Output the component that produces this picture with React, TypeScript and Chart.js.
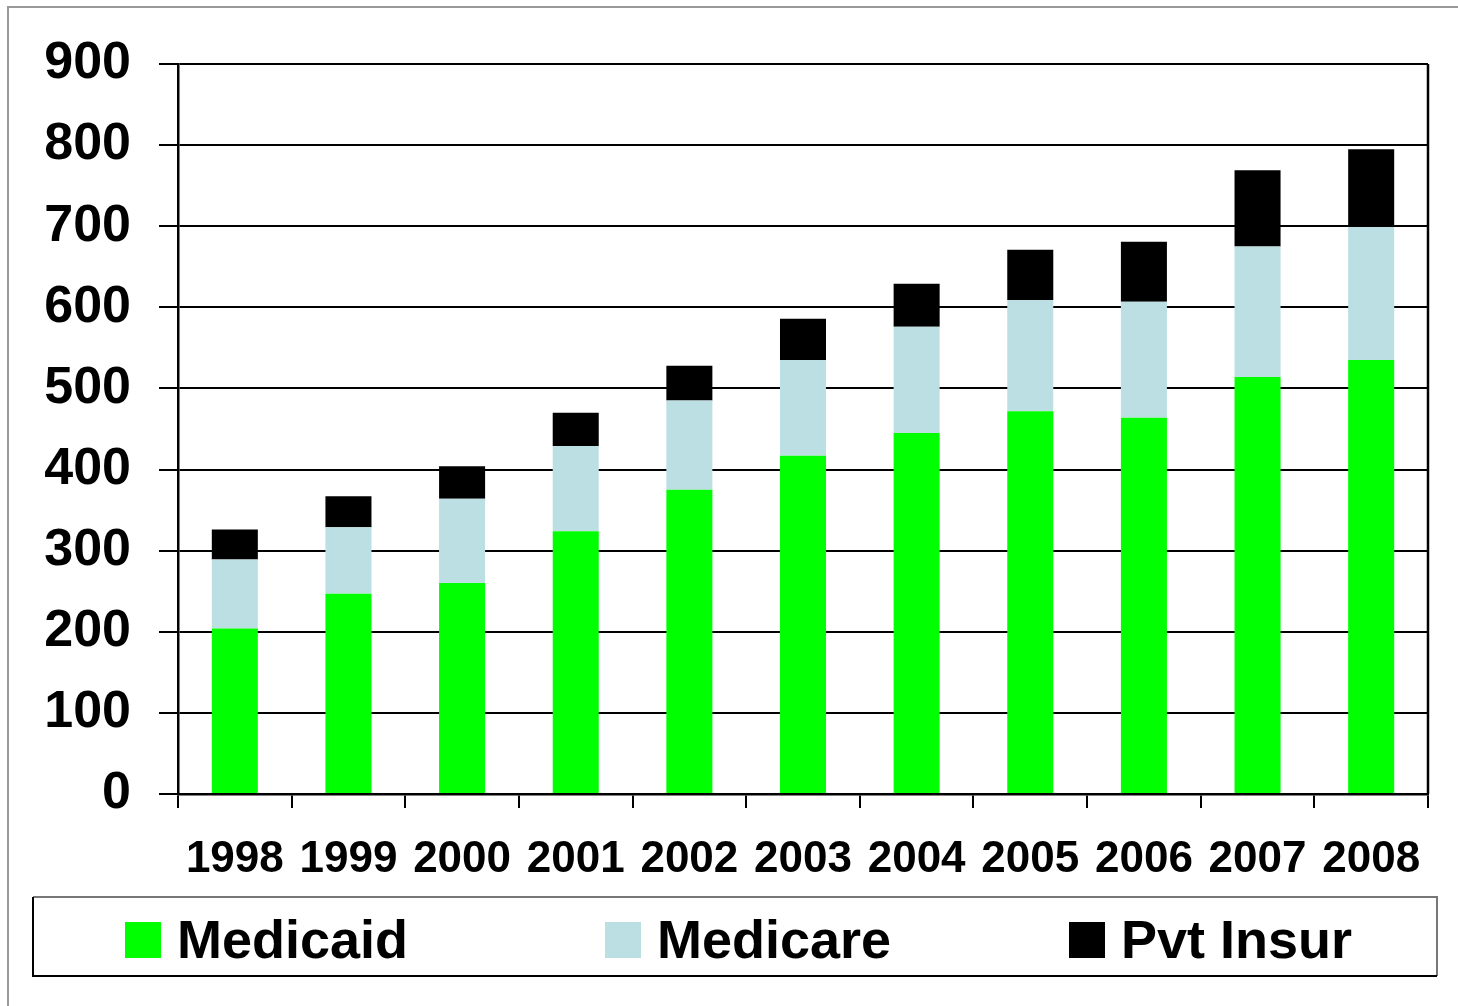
import React, { useEffect, useRef } from "react";
import { Chart, registerables } from "chart.js";

Chart.register(...registerables);

const years = ["1998", "1999", "2000", "2001", "2002", "2003", "2004", "2005", "2006", "2007", "2008"];
const medicaid = [204, 247, 260, 324, 375, 417, 445, 472, 464, 514, 535];
const medicare = [85, 82, 104, 105, 110, 118, 131, 137, 143, 161, 164];
const pvtInsur = [37, 38, 40, 41, 43, 51, 53, 62, 74, 94, 96];
const seriesNames = ["Medicaid", "Medicare", "Pvt Insur"];
const seriesColors = ["#00FF00", "#BBDFE3", "#000000"];
const yTicks = [0, 100, 200, 300, 400, 500, 600, 700, 800, 900];

const FONT = "'Liberation Sans', Arial, Helvetica, sans-serif";

const framePlugin = {
  id: "frame",
  beforeDraw(chart: any) {
    const ctx = chart.ctx;
    ctx.save();
    ctx.fillStyle = "#FFFFFF";
    ctx.fillRect(0, 0, chart.width, chart.height);
    ctx.strokeStyle = "#999999";
    ctx.lineWidth = 2;
    ctx.beginPath();
    ctx.moveTo(8, chart.height);
    ctx.lineTo(8, 7);
    ctx.lineTo(chart.width, 7);
    ctx.stroke();
    ctx.restore();
  },
  afterDraw(chart: any) {
    const ctx = chart.ctx;
    const a = chart.chartArea;
    ctx.save();
    // right border of plot area
    ctx.strokeStyle = "#000000";
    ctx.lineWidth = 2.5;
    ctx.beginPath();
    ctx.moveTo(a.right, a.top);
    ctx.lineTo(a.right, a.bottom);
    ctx.stroke();

    // legend box
    const lx = 33, ly = 897, lw = 1404, lh = 79;
    ctx.lineWidth = 2;
    ctx.strokeStyle = "#777777";
    ctx.beginPath();
    ctx.moveTo(lx, ly);
    ctx.lineTo(lx + lw, ly);
    ctx.lineTo(lx + lw, ly + lh);
    ctx.stroke();
    ctx.strokeStyle = "#000000";
    ctx.beginPath();
    ctx.moveTo(lx + lw, ly + lh);
    ctx.lineTo(lx, ly + lh);
    ctx.lineTo(lx, ly);
    ctx.stroke();

    const swatchX = [125, 605, 1069];
    ctx.font = `bold 54px ${FONT}`;
    ctx.textBaseline = "alphabetic";
    ctx.textAlign = "left";
    seriesNames.forEach((name, i) => {
      ctx.fillStyle = seriesColors[i];
      ctx.fillRect(swatchX[i], 922, 36, 36);
      ctx.fillStyle = "#000000";
      ctx.fillText(name, swatchX[i] + 52, 958);
    });
    ctx.restore();
  },
};

export default function App() {
  const ref = useRef<HTMLCanvasElement | null>(null);

  useEffect(() => {
    if (!ref.current) return;
    const values = [medicaid, medicare, pvtInsur];
    const chart = new Chart(ref.current, {
      type: "bar",
      data: {
        labels: years,
        datasets: seriesNames.map((name, i) => ({
          label: name,
          data: values[i],
          backgroundColor: seriesColors[i],
          borderWidth: 0,
          barPercentage: 1,
          categoryPercentage: 0.405,
        })),
      },
      options: {
        responsive: false,
        animation: false,
        events: [],
        layout: { padding: { top: 64, right: 30, left: 0, bottom: 112 } },
        plugins: {
          legend: { display: false },
          tooltip: { enabled: false },
          title: { display: false },
        },
        scales: {
          x: {
            stacked: true,
            grid: {
              display: true,
              drawOnChartArea: false,
              drawTicks: true,
              tickLength: 14,
              color: "#000000",
              lineWidth: 2,
              offset: true,
            },
            border: { display: true, color: "#000000", width: 2.5 },
            ticks: {
              color: "#000000",
              font: { family: FONT, size: 44, weight: "bold" },
              padding: 25,
              maxRotation: 0,
              minRotation: 0,
              autoSkip: false,
            },
            afterFit(scale: any) {
              scale.height = 100;
              scale.paddingLeft = 0;
              scale.paddingRight = 0;
            },
          },
          y: {
            stacked: true,
            min: 0,
            max: 900,
            afterBuildTicks(scale: any) {
              scale.ticks = yTicks.map((v) => ({ value: v }));
            },
            grid: {
              color: "#000000",
              lineWidth: 2,
              tickLength: 19,
              drawTicks: true,
            },
            border: { display: true, color: "#000000", width: 2.5 },
            ticks: {
              color: "#000000",
              font: { family: FONT, size: 52, weight: "bold" },
              padding: 28,
            },
            afterFit(scale: any) {
              scale.width = 178;
              scale.paddingTop = 0;
              scale.paddingBottom = 0;
            },
          },
        },
      },
      plugins: [framePlugin],
    });
    return () => chart.destroy();
  }, []);

  return (
    <div style={{ position: "absolute", left: 0, top: 0, width: 1458, height: 1006, overflow: "hidden" }}>
      <canvas ref={ref} width={1458} height={1006} style={{ display: "block", width: 1458, height: 1006 }} />
    </div>
  );
}
